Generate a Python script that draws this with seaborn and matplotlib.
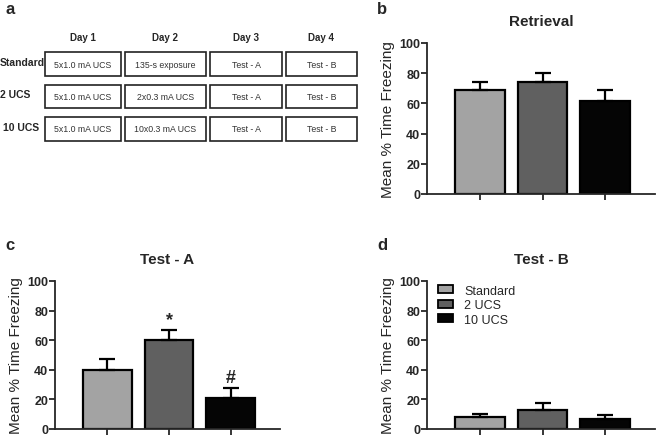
import numpy as np
import pandas as pd
import matplotlib
matplotlib.use("Agg")
import matplotlib.pyplot as plt
from matplotlib.patches import Rectangle, Patch
import seaborn as sns

# Data
groups = ["Standard", "2 UCS", "10 UCS"]
colors = ["#a3a3a3", "#606060", "#050505"]
retrieval_mean = [69, 74.5, 61.5]
retrieval_sem = [5.5, 5.5, 7.5]
testa_mean = [40, 60, 21]
testa_sem = [7.5, 7, 6.5]
testb_mean = [8, 13, 6.5]
testb_sem = [2, 4.5, 3]
testa_marks = ["", "*", "#"]

days = ["Day 1", "Day 2", "Day 3", "Day 4"]
protocol = [
    ["5x1.0 mA UCS", "135-s exposure", "Test - A", "Test - B"],
    ["5x1.0 mA UCS", "2x0.3 mA UCS", "Test - A", "Test - B"],
    ["5x1.0 mA UCS", "10x0.3 mA UCS", "Test - A", "Test - B"],
]

sns.set_style("ticks")
plt.rcParams["font.family"] = ["Liberation Sans", "DejaVu Sans"]

W, H = 657, 439
fig = plt.figure(figsize=(W / 100, H / 100), dpi=100)


def px_rect(x0, y0, x1, y1):
    return [x0 / W, 1 - y1 / H, (x1 - x0) / W, (y1 - y0) / H]


def bar_panel(ax, means, sems, title, marks=None):
    df = pd.DataFrame({"group": groups, "value": means})
    sns.barplot(data=df, x="group", y="value", hue="group", palette=colors,
                width=0.79, edgecolor="black", linewidth=1.6, legend=False, ax=ax)
    xs = np.arange(len(groups))
    ax.errorbar(xs, means, yerr=[np.zeros(len(sems)), sems], fmt="none",
                ecolor="black", elinewidth=1.6, capsize=5.5, capthick=1.6)
    if marks:
        for x, m, s, t in zip(xs, means, sems, marks):
            if t:
                ax.text(x, m + s + 1.5, t, ha="center", va="bottom",
                        fontsize=13, fontweight="bold")
    ax.set_xlim(-0.85, 2.8)
    ax.set_ylim(0, 100)
    ax.set_yticks([0, 20, 40, 60, 80, 100])
    ax.set_xticks(xs)
    ax.set_xticklabels([])
    ax.set_xlabel("")
    ax.set_ylabel("Mean % Time Freezing", fontsize=11, labelpad=3)
    ax.set_title(title, fontsize=11, fontweight="bold", pad=13)
    for lab in ax.get_yticklabels():
        lab.set_fontweight("bold")
    ax.tick_params(axis="both", labelsize=9, width=1.3, length=4, direction="out", pad=1)
    for sp in ["left", "bottom"]:
        ax.spines[sp].set_linewidth(1.3)
    sns.despine(ax=ax)


ax_b = fig.add_axes(px_rect(427, 44, 655, 195))
bar_panel(ax_b, retrieval_mean, retrieval_sem, "Retrieval")

ax_c = fig.add_axes(px_rect(55, 282, 280, 430))
bar_panel(ax_c, testa_mean, testa_sem, "Test - A", testa_marks)

ax_d = fig.add_axes(px_rect(427, 282, 655, 430))
bar_panel(ax_d, testb_mean, testb_sem, "Test - B")
handles = [Patch(facecolor=c, edgecolor="black", linewidth=1.3) for c in colors]
ax_d.legend(handles, groups, loc="upper left", bbox_to_anchor=(0.0, 1.05),
            frameon=False, fontsize=9, handlelength=1.2, handleheight=0.6,
            labelspacing=0.2, handletextpad=0.9)

# Panel a: protocol table, drawn in pixel coordinates
ax_a = fig.add_axes([0, 0, 1, 1], zorder=-1)
ax_a.set_xlim(0, W)
ax_a.set_ylim(H, 0)
ax_a.axis("off")

col_x = [(45, 121), (125, 206), (210, 282), (286, 357)]
row_y = [(53, 77), (86, 109), (118, 142)]
row_lab_x = [0, 0, 3]
for (x0, x1), d in zip(col_x, days):
    ax_a.text((x0 + x1) / 2, 38, d, ha="center", va="center", fontsize=7, fontweight="bold")
for r, ((y0, y1), g) in enumerate(zip(row_y, groups)):
    ax_a.text(row_lab_x[r], (y0 + y1) / 2 - 2, g, ha="left", va="center",
              fontsize=7.5, fontweight="bold")
    for c, (x0, x1) in enumerate(col_x):
        ax_a.add_patch(Rectangle((x0, y0), x1 - x0, y1 - y0, fill=False,
                                 edgecolor="#222222", linewidth=1.2))
        ax_a.text((x0 + x1) / 2, (y0 + y1) / 2, protocol[r][c], ha="center",
                  va="center", fontsize=6.3, color="#333333")

for lab, (x, y) in zip("abcd", [(5, 10), (377, 10), (5, 246), (377, 246)]):
    ax_a.text(x, y, lab, ha="left", va="center", fontsize=12, fontweight="bold")

fig.savefig("out.png", dpi=100)
